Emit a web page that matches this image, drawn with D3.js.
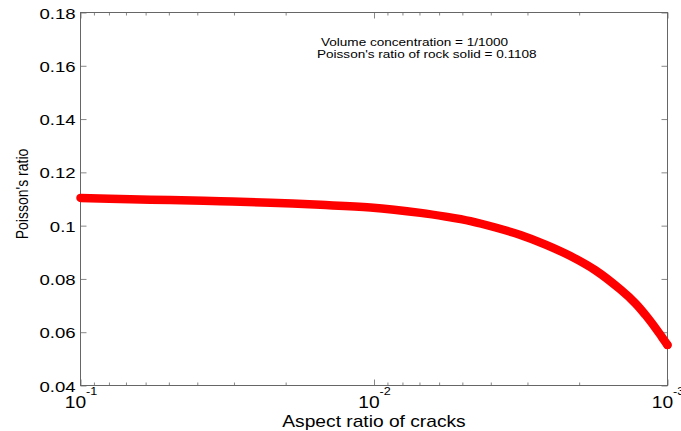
<!DOCTYPE html>
<html>
<head>
<meta charset="utf-8">
<script src="https://cdn.jsdelivr.net/npm/d3@7"></script>
<style>
  html, body { margin: 0; padding: 0; background: #fff; }
  svg { display: block; }
  text { font-family: "Liberation Sans", Arial, Helvetica, sans-serif; fill: #000; }
</style>
</head>
<body>
<svg id="chart" width="681" height="431"></svg>
<script>
// Crack aspect ratio and the effective Poisson's ratio of the cracked rock
const aspectRatios  = [0.1, 0.06757, 0.04937, 0.03334, 0.02252, 0.01522, 0.01028, 0.006942,
                       0.005705, 0.004691, 0.003855, 0.003170, 0.002604, 0.002141, 0.001759,
                       0.001446, 0.001285, 0.001189, 0.001099, 0.001048, 0.001];
const poissonRatios = [0.1104, 0.1099, 0.1096, 0.1092, 0.1086, 0.1078, 0.1068, 0.1048,
                       0.1034, 0.1017, 0.0993, 0.0965, 0.0929, 0.0886, 0.0832,
                       0.0760, 0.0708, 0.0665, 0.0616, 0.0584, 0.0552];

// Axis ticks
const yTickValues = [0.04, 0.06, 0.08, 0.1, 0.12, 0.14, 0.16, 0.18];
const yTickLabels = ["0.04", "0.06", "0.08", "0.1", "0.12", "0.14", "0.16", "0.18"];
const xMajorTicks = [0.1, 0.01, 0.001];
const xMajorExponents = ["-1", "-2", "-3"];
const xMinorTicks = [0.09, 0.08, 0.07, 0.06, 0.05, 0.04, 0.03, 0.02,
                     0.009, 0.008, 0.007, 0.006, 0.005, 0.004, 0.003, 0.002];

// Text
const xLabel = "Aspect ratio of cracks";
const yLabel = "Poisson's ratio";
const noteLines = ["Volume concentration = 1/1000", "Poisson's ratio of rock solid = 0.1108"];

// Glyphs are drawn slightly wide, as in the exported figure
const SX = 1.2;

const svg = d3.select("#chart");
const plot = { left: 80.5, right: 667.5, top: 12.5, bottom: 385.5 };

const x = d3.scaleLog().domain([0.1, 0.001]).range([plot.left, plot.right]);
const y = d3.scaleLinear().domain([0.04, 0.18]).range([plot.bottom, plot.top]);

const axisColor = "#666";
const tickColor = "#888";

function styleAxis(g) {
  g.select(".domain").remove();
  g.selectAll(".tick line").attr("stroke", tickColor).attr("stroke-width", 1);
}

// Left axis with labels, right axis mirrored ticks only
svg.append("g")
  .attr("transform", `translate(${plot.left},0)`)
  .call(d3.axisLeft(y).tickValues(yTickValues)
          .tickFormat((d, i) => yTickLabels[i])
          .tickSizeInner(-6).tickSizeOuter(0).tickPadding(4))
  .call(styleAxis)
  .call(g => g.selectAll(".tick text")
      .attr("font-size", 15.5)
      .attr("dy", "0.36em")
      .attr("transform", `scale(${SX},1)`));

svg.append("g")
  .attr("transform", `translate(${plot.right},0)`)
  .call(d3.axisRight(y).tickValues(yTickValues).tickFormat("")
          .tickSizeInner(-6).tickSizeOuter(0))
  .call(styleAxis);

// Bottom axis: major ticks with power-of-ten labels, minor ticks
svg.append("g")
  .attr("transform", `translate(0,${plot.bottom})`)
  .call(d3.axisBottom(x).tickValues(xMajorTicks).tickFormat("")
          .tickSizeInner(-6).tickSizeOuter(0))
  .call(styleAxis)
  .call(g => g.selectAll(".tick text").each(function(d, i) {
      const t = d3.select(this)
        .attr("y", 22.5).attr("dy", null)
        .attr("text-anchor", "middle")
        .attr("transform", `scale(${SX},1)`);
      t.text(null);
      t.append("tspan").attr("font-size", 16).text("10");
      t.append("tspan").attr("font-size", 10.5).attr("dy", -13).text(xMajorExponents[i]);
    }));

svg.append("g")
  .attr("transform", `translate(0,${plot.bottom})`)
  .call(d3.axisBottom(x).tickValues(xMinorTicks).tickFormat("")
          .tickSizeInner(-3).tickSizeOuter(0))
  .call(styleAxis);

// Top axis mirrored ticks
svg.append("g")
  .attr("transform", `translate(0,${plot.top})`)
  .call(d3.axisTop(x).tickValues(xMajorTicks).tickFormat("")
          .tickSizeInner(-6).tickSizeOuter(0))
  .call(styleAxis);
svg.append("g")
  .attr("transform", `translate(0,${plot.top})`)
  .call(d3.axisTop(x).tickValues(xMinorTicks).tickFormat("")
          .tickSizeInner(-3).tickSizeOuter(0))
  .call(styleAxis);

// Plot box
svg.append("rect")
  .attr("x", plot.left).attr("y", plot.top)
  .attr("width", plot.right - plot.left).attr("height", plot.bottom - plot.top)
  .attr("fill", "none").attr("stroke", axisColor).attr("stroke-width", 1);

// Curve: densely packed circle markers drawn as a thick band
const pts = aspectRatios.map((a, i) => [a, poissonRatios[i]]);
const line = d3.line()
  .x(d => x(d[0]))
  .y(d => y(d[1]))
  .curve(d3.curveCatmullRom.alpha(0.5));

svg.append("path")
  .datum(pts)
  .attr("d", line)
  .attr("fill", "none")
  .attr("stroke", "#ff0000")
  .attr("stroke-width", 8.5)
  .attr("stroke-linecap", "round")
  .attr("stroke-linejoin", "round");

// Last marker outline
const last = pts[pts.length - 1];
svg.append("circle")
  .attr("cx", x(last[0])).attr("cy", y(last[1]))
  .attr("r", 3.5)
  .attr("fill", "none").attr("stroke", "#ff0000").attr("stroke-width", 1.2);

// Axis titles
svg.append("g")
  .attr("transform", `translate(${(plot.left + plot.right) / 2},427) scale(${SX},1)`)
  .append("text")
  .attr("text-anchor", "middle")
  .attr("font-size", 16)
  .text(xLabel);

svg.append("g")
  .attr("transform", `translate(28,${(plot.top + plot.bottom) / 2 - 5}) scale(${SX},1) rotate(-90)`)
  .append("text")
  .attr("text-anchor", "middle")
  .attr("font-size", 14)
  .text(yLabel);

// Annotation
const noteX = [321, 317];
const noteY = [46, 58];
noteLines.forEach((s, i) => {
  svg.append("g")
    .attr("transform", `translate(${noteX[i]},${noteY[i]}) scale(${SX},1)`)
    .append("text")
    .attr("font-size", 11.3)
    .text(s);
});
</script>
</body>
</html>
